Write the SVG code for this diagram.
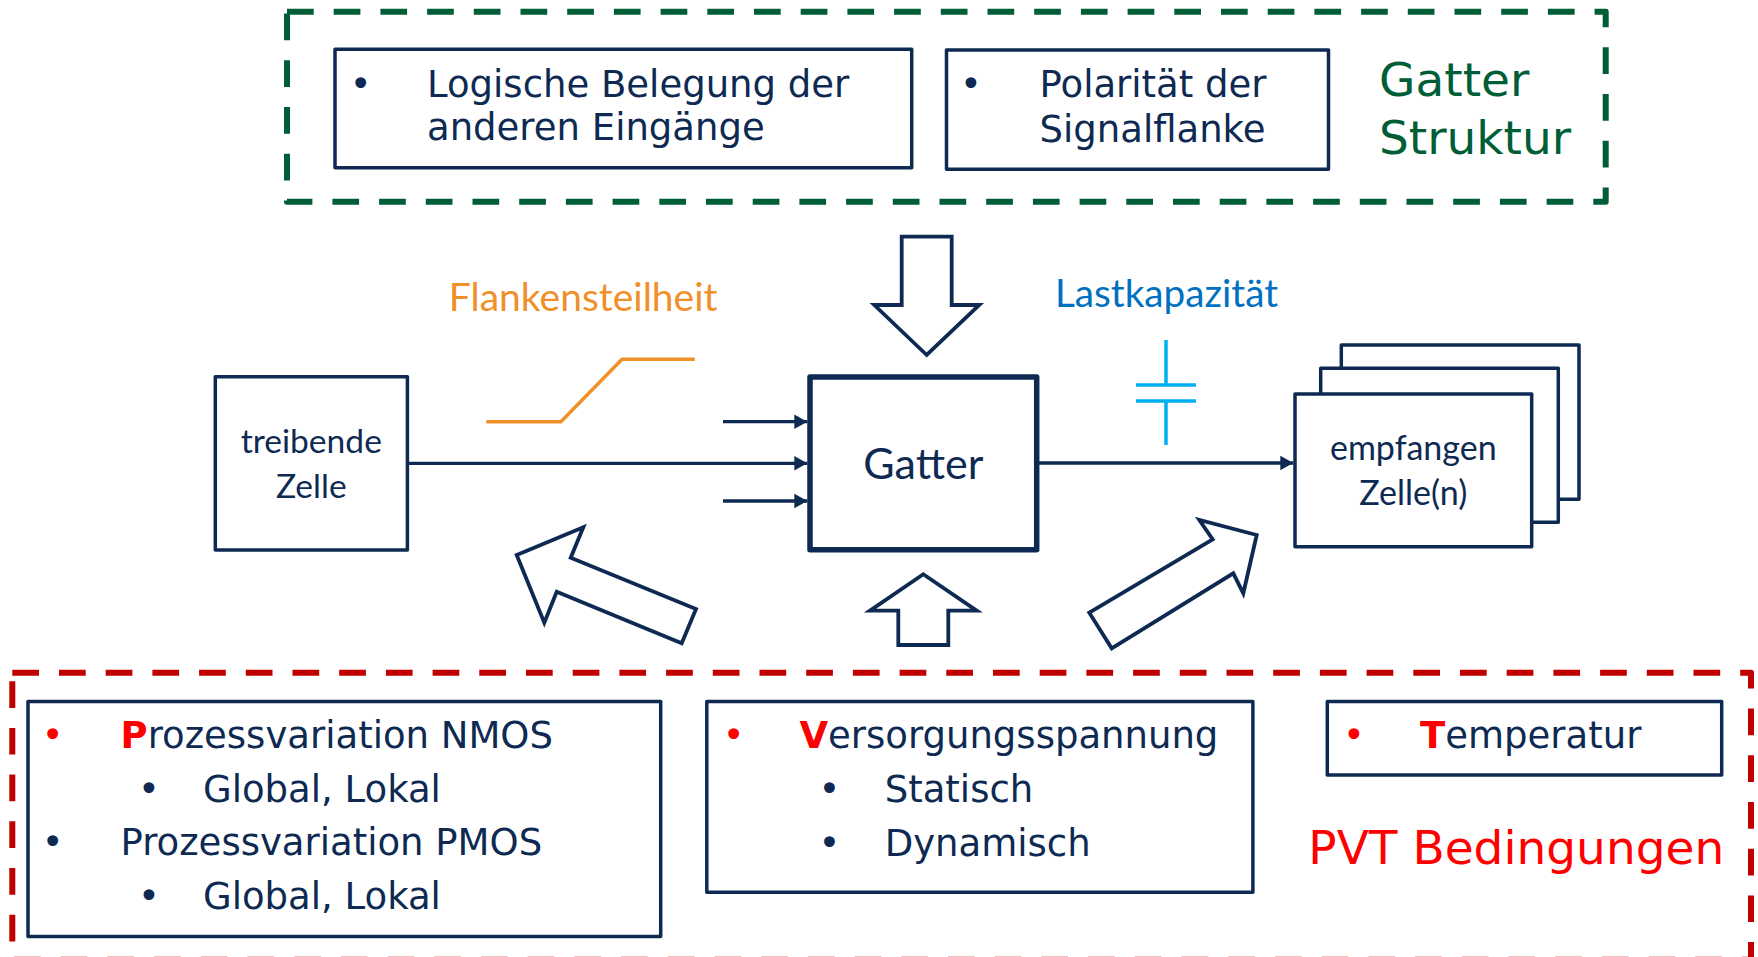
<svg xmlns="http://www.w3.org/2000/svg" width="1758" height="957" viewBox="0 0 1758 957">
<style>
.box{fill:#ffffff;stroke:#0e2a52;stroke-width:3.5;stroke-linejoin:round}
.bigarrow{fill:#ffffff;stroke:#0e2a52;stroke-width:3.8;stroke-linejoin:miter}
.wire{fill:none;stroke:#0e2a52;stroke-width:3.3}
.tx{font-family:"DejaVu Sans",Verdana,sans-serif;font-size:37px;fill:#0e2a52}
.lab{font-family:Lato,"Liberation Sans",sans-serif;fill:#0e2a52}
.hl{font-weight:bold;fill:#ff0000}
.rb{fill:#ff0000}
.grp-g{fill:none;stroke:#005e37;stroke-width:6;stroke-dasharray:26.7 20;stroke-linejoin:round}
.grp-r{fill:none;stroke:#c00000;stroke-width:6;stroke-dasharray:26.7 20;stroke-linejoin:round}
</style>
<defs>
<marker id="ah" markerUnits="userSpaceOnUse" markerWidth="14" markerHeight="15" refX="13" refY="7.3" orient="auto">
<path d="M0,0 L13,7.3 L0,14.6 z" fill="#0e2a52"/>
</marker>
</defs>
<rect width="1758" height="957" fill="#ffffff"/>

<g id="gatter-struktur">
<rect class="grp-g" x="287" y="11.7" width="1318.7" height="190"/>
<text class="tx" x="1379" y="95.7" style="font-size:47px;fill:#005e37">Gatter</text>
<text class="tx" x="1379" y="154" style="font-size:47px;fill:#005e37">Struktur</text>
</g>

<g id="box-logische-belegung">
<rect class="box" x="335" y="49.3" width="576.7" height="118.4"/>
<text class="tx" x="349.8" y="96.7">•</text>
<text class="tx" x="427" y="96.7">Logische Belegung der</text>
<text class="tx" x="427" y="140">anderen Eingänge</text>
</g>

<g id="box-polaritaet">
<rect class="box" x="946.5" y="50" width="382" height="119.3"/>
<text class="tx" x="960.1" y="97.3">•</text>
<text class="tx" x="1039.5" y="97.3">Polarität der</text>
<text class="tx" x="1039.5" y="141.5">Signalflanke</text>
</g>

<g id="pvt-bedingungen">
<rect class="grp-r" x="12.3" y="672.7" width="1738.7" height="287"/>
<text class="tx" x="1308.3" y="864" style="font-size:47px;fill:#ff0000">PVT Bedingungen</text>
</g>

<g id="box-prozess">
<rect class="box" x="28" y="701.5" width="632.7" height="235"/>
<text class="tx rb" x="41.8" y="747.7">•</text>
<text class="tx" x="120.5" y="747.7"><tspan class="hl">P</tspan>rozessvariation NMOS</text>
<text class="tx" x="138.1" y="801.7">•</text>
<text class="tx" x="203" y="801.7">Global, Lokal</text>
<text class="tx" x="41.8" y="855">•</text>
<text class="tx" x="120.5" y="855">Prozessvariation PMOS</text>
<text class="tx" x="138.1" y="909.3">•</text>
<text class="tx" x="203" y="909.3">Global, Lokal</text>
</g>

<g id="box-versorgung">
<rect class="box" x="706.8" y="701.5" width="546.1" height="190.8"/>
<text class="tx rb" x="722.7" y="747.7">•</text>
<text class="tx" x="799.4" y="747.7"><tspan class="hl">V</tspan>ersorgungsspannung</text>
<text class="tx" x="818.4" y="801.7">•</text>
<text class="tx" x="884.7" y="801.7">Statisch</text>
<text class="tx" x="818.4" y="856">•</text>
<text class="tx" x="884.7" y="856">Dynamisch</text>
</g>

<g id="box-temperatur">
<rect class="box" x="1327.3" y="701.5" width="394.4" height="73.5"/>
<text class="tx rb" x="1343.1" y="747.7">•</text>
<text class="tx" x="1420" y="747.7"><tspan class="hl">T</tspan>emperatur</text>
</g>

<g id="treibende-zelle">
<rect class="box" x="215.3" y="376.7" width="192.1" height="173.3"/>
<text class="lab" x="311.3" y="453.3" text-anchor="middle" style="font-size:33.6px">treibende</text>
<text class="lab" x="311.3" y="497.7" text-anchor="middle" style="font-size:33.6px">Zelle</text>
</g>

<g id="gatter">
<rect class="box" x="810" y="377" width="226.7" height="172.7" style="stroke-width:5.5"/>
<text class="lab" x="923.3" y="479.3" text-anchor="middle" style="font-size:43px">Gatter</text>
</g>

<g id="empfangen-zellen">
<rect class="box" x="1341.3" y="345" width="237.7" height="154.3"/>
<rect class="box" x="1320.7" y="368.3" width="237.6" height="154"/>
<rect class="box" x="1295" y="394" width="236.7" height="152.7"/>
<text class="lab" x="1413.3" y="460" text-anchor="middle" style="font-size:34px">empfangen</text>
<text class="lab" x="1413.3" y="505" text-anchor="middle" style="font-size:34px">Zelle(n)</text>
</g>

<g id="flankensteilheit">
<text class="lab" x="448.8" y="310.7" style="font-size:39px;fill:#f0902a">Flankensteilheit</text>
<polyline points="486.3,421.7 560.9,421.7 622,359.3 694.8,359.3" fill="none" stroke="#f0902a" stroke-width="3.5"/>
</g>

<g id="lastkapazitaet">
<text class="lab" x="1055" y="307.3" style="font-size:38.7px;fill:#0070c0">Lastkapazität</text>
<g stroke="#00b0f0" stroke-width="3.5" fill="none">
<line x1="1166" y1="340" x2="1166" y2="385"/>
<line x1="1136" y1="385" x2="1196" y2="385"/>
<line x1="1136" y1="401" x2="1196" y2="401"/>
<line x1="1166" y1="401" x2="1166" y2="445"/>
</g>
</g>

<g id="connectors">
<line class="wire" x1="407.4" y1="463.3" x2="807.3" y2="463.3" marker-end="url(#ah)"/>
<line class="wire" x1="723" y1="421.7" x2="807.3" y2="421.7" marker-end="url(#ah)"/>
<line class="wire" x1="723" y1="501" x2="807.3" y2="501" marker-end="url(#ah)"/>
<line class="wire" x1="1036.7" y1="463" x2="1293.3" y2="463" marker-end="url(#ah)"/>
<polygon class="bigarrow" points="901.7,236.7 951.7,236.7 951.7,305 979.3,305 926.7,355 874.3,305 901.7,305"/>
<polygon class="bigarrow" points="923.3,574.3 976.7,610.7 948.3,610.7 948.3,645 898.3,645 898.3,610.7 870,610.7"/>
<polygon class="bigarrow" points="516.7,555 583.3,527.3 570.7,557.7 696,609 681.7,643.3 556.7,591.7 544.3,622.7"/>
<polygon class="bigarrow" points="1089.3,612.7 1212.7,539.3 1199.3,520 1256.7,535 1243.3,593.3 1233.3,573.3 1111.7,648.3"/>
</g>
</svg>
